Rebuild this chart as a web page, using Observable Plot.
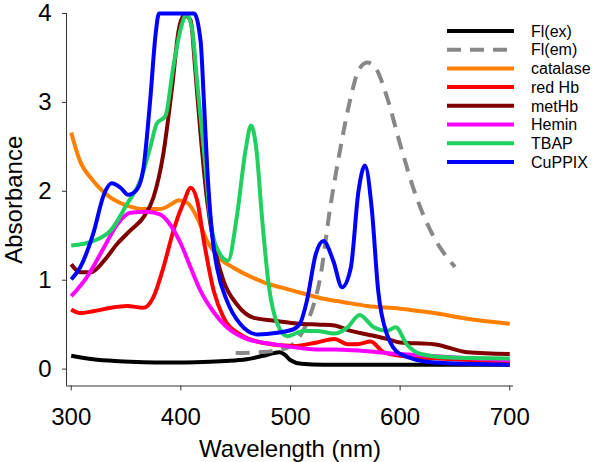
<!DOCTYPE html>
<html>
<head>
<meta charset="utf-8">
<script src="https://cdn.jsdelivr.net/npm/d3@7"></script>
<script src="https://cdn.jsdelivr.net/npm/@observablehq/plot@0.6"></script>
<style>
  html, body { margin: 0; padding: 0; background: #fff; }
  #chart { width: 598px; height: 462px; position: relative; }
  svg { font-family: "Liberation Sans", Arial, sans-serif; }
</style>
</head>
<body>
<div id="chart"></div>
<script>
// Series names, colours and dash styles (legend order = draw order)
const seriesNames = ["Fl(ex)", "Fl(em)", "catalase", "red Hb", "metHb", "Hemin", "TBAP", "CuPPIX"];
const seriesColors = ["#000000", "#888888", "#ff8000", "#ff0000", "#800000", "#ff00ff", "#20d060", "#0000ff"];
const seriesDash = [null, "14,9", null, null, null, null, null, null];

// [wavelength (nm), absorbance]
const flEx = [[300,0.15],[320,0.11],[340,0.09],[360,0.08],[380,0.075],[400,0.075],[420,0.08],[440,0.09],[460,0.11],[475,0.15],[485,0.18],[490,0.19],[495,0.16],[500,0.10],[510,0.06],[530,0.05],[600,0.05],[700,0.05]];
const flEm = [[450,0.18],[470,0.19],[488,0.21],[500,0.26],[508,0.36],[515,0.52],[521,0.72],[527,1.02],[536,1.8],[545,2.45],[555,3.06],[562,3.36],[570,3.45],[578,3.38],[588,3.06],[600,2.53],[615,1.93],[631,1.48],[650,1.15]];
const catalase = [[300,2.66],[308,2.34],[320,2.12],[336,1.93],[351,1.84],[366,1.80],[381,1.80],[392,1.86],[398,1.90],[406,1.87],[415,1.70],[424,1.44],[436,1.24],[448,1.14],[473,0.99],[503,0.88],[527,0.80],[550,0.75],[570,0.71],[600,0.68],[631,0.63],[660,0.57],[700,0.51]];
const redHb = [[300,0.67],[308,0.63],[320,0.65],[336,0.69],[351,0.71],[366,0.69],[375,0.81],[384,1.14],[394,1.59],[403,1.89],[409,2.04],[415,1.89],[421,1.44],[430,0.88],[439,0.58],[454,0.39],[473,0.30],[503,0.26],[524,0.30],[540,0.34],[552,0.28],[561,0.28],[573,0.31],[585,0.19],[600,0.15],[650,0.11],[700,0.08]];
const metHb = [[300,1.18],[308,1.09],[318,1.09],[330,1.22],[342,1.41],[354,1.56],[366,1.71],[375,1.93],[384,2.42],[392,3.17],[398,3.81],[403,3.98],[409,3.92],[413,3.39],[418,2.64],[424,1.89],[430,1.41],[439,0.99],[451,0.73],[466,0.58],[488,0.54],[509,0.51],[527,0.50],[540,0.49],[555,0.43],[570,0.39],[588,0.34],[600,0.30],[631,0.28],[661,0.19],[700,0.17]];
const hemin = [[300,0.82],[314,1.03],[330,1.37],[342,1.63],[354,1.76],[369,1.77],[381,1.74],[390,1.63],[400,1.41],[409,1.14],[418,0.88],[430,0.64],[442,0.47],[460,0.34],[485,0.28],[527,0.22],[540,0.22],[600,0.17],[650,0.13],[700,0.10]];
const tbap = [[300,1.39],[320,1.44],[336,1.56],[351,1.86],[363,2.12],[372,2.49],[378,2.76],[386,2.85],[393,3.39],[401,3.88],[405,3.99],[410,3.84],[415,3.21],[421,2.46],[428,1.59],[436,1.29],[443,1.22],[451,1.71],[459,2.46],[464,2.74],[469,2.46],[474,1.71],[480,0.96],[488,0.51],[497,0.37],[512,0.43],[524,0.43],[540,0.40],[552,0.47],[563,0.61],[576,0.47],[588,0.43],[596,0.47],[606,0.28],[619,0.17],[646,0.13],[700,0.12]];
const cuppix = [[300,1.01],[308,1.14],[320,1.52],[330,1.97],[337,2.09],[345,2.04],[352,1.96],[360,2.02],[366,2.27],[372,3.02],[377,3.77],[380,4.0],[412,4.0],[418,3.69],[421,3.02],[424,2.27],[428.5,1.52],[433,1.14],[442,0.77],[454,0.51],[470,0.39],[488,0.41],[503,0.45],[509,0.52],[515,0.77],[523,1.29],[530,1.44],[539,1.22],[547,0.92],[555,1.14],[562,2.0],[568,2.29],[574,1.82],[580,0.88],[588,0.39],[600,0.17],[631,0.075],[700,0.05]];

const xTicks = [300, 400, 500, 600, 700];
const yTicks = [0, 1, 2, 3, 4];
const xTitle = "Wavelength (nm)";
const yTitle = "Absorbance";
const xDomain = [295.7, 703.4];
const yDomain = [-0.19, 4];

const seriesData = [flEx, flEm, catalase, redHb, metHb, hemin, tbap, cuppix];

const lineMarks = seriesData.map((pts, i) => Plot.line(pts.map(([w, a]) => ({w, a})), {
  x: "w", y: "a",
  stroke: seriesColors[i],
  strokeWidth: 4,
  strokeDasharray: seriesDash[i] || undefined,
  strokeLinecap: "butt",
  curve: "monotone-x"
}));

const plot = Plot.plot({
  width: 598,
  height: 462,
  marginLeft: 66,
  marginRight: 85,
  marginTop: 13,
  marginBottom: 76.5,
  style: {fontFamily: "'Liberation Sans', Arial, sans-serif", background: "#fff", color: "#000"},
  x: {domain: xDomain},
  y: {domain: yDomain},
  marks: [
    Plot.ruleY([yDomain[0]], {stroke: "#333", strokeWidth: 1}),
    Plot.ruleX([xDomain[0]], {stroke: "#333", strokeWidth: 1}),
    Plot.axisX({ticks: xTicks, tickFormat: d => String(d), tickSize: 5, tickPadding: 17, fontSize: 24, label: null, stroke: "#333", fill: "#000"}),
    Plot.axisY({ticks: yTicks, tickFormat: d => String(d), tickSize: 4, tickPadding: 11, fontSize: 24, label: null, stroke: "#333", fill: "#000"}),
    ...lineMarks,
    Plot.text([xTitle], {frameAnchor: "bottom", textAnchor: "middle", lineAnchor: "bottom", dy: 70.5, fontSize: 24, fill: "#000"}),
    Plot.text([yTitle], {frameAnchor: "left", textAnchor: "middle", lineAnchor: "bottom", rotate: -90, dx: -45, fontSize: 24, fill: "#000"})
  ]
});

document.getElementById("chart").appendChild(plot);

// Legend (inside SVG, top right)
const svg = d3.select(plot);
const leg = svg.append("g").attr("class", "legend").attr("text-anchor", "start");
seriesNames.forEach((name, i) => {
  const y = 31 + i * 18.7;
  leg.append("line")
    .attr("x1", 447).attr("x2", 514).attr("y1", y).attr("y2", y)
    .attr("stroke", seriesColors[i]).attr("stroke-width", 4)
    .attr("stroke-dasharray", seriesDash[i]);
  leg.append("text")
    .attr("x", 531).attr("y", y).attr("dy", "0.36em")
    .attr("text-anchor", "start")
    .attr("font-size", 16).attr("fill", "#000")
    .text(name);
});
</script>
</body>
</html>
